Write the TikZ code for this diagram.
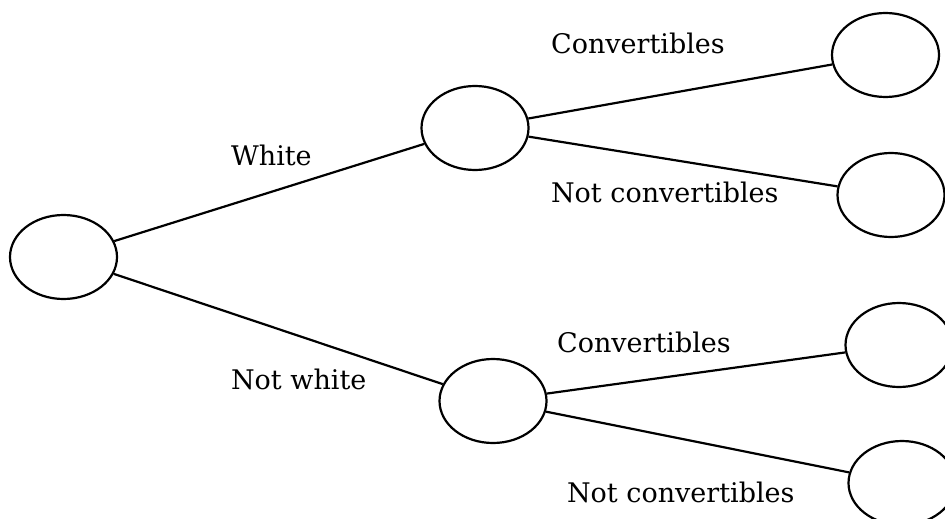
\documentclass[tikz,border=0pt]{standalone}
\usepackage{fontspec}
\setmainfont{DejaVu Serif}
\usepackage{tikz}
\usetikzlibrary{shapes.geometric}

\begin{document}
\begin{tikzpicture}
                [x=0.5pt,y=-0.5pt,line width=1.1pt,
                 state/.style={draw,ellipse,minimum width=53.5pt,minimum height=42pt,inner sep=0pt},
                 lbl/.style={anchor=base west,inner sep=0pt,font=\fontsize{13.5}{16}\selectfont}]
                
                \useasboundingbox (0,0) rectangle (945,518);
                
                \node[state] (root) at (63.5,257) {};
                \node[state] (w)    at (475,128) {};
                \node[state] (nw)   at (493,401) {};
                \node[state] (wc)   at (885.5,55) {};
                \node[state] (wnc)  at (891,195) {};
                \node[state] (nwc)  at (899,345) {};
                \node[state] (nwnc) at (902,483) {};
                
                \node[lbl] (lw)    at (230,165) {White};
                \node[lbl] (lnw)   at (230,389) {Not white};
                \node[lbl] (lwc)   at (550,54)  {Convertibles};
                \node[lbl] (lwnc)  at (550,202) {Not convertibles};
                \node[lbl] (lnwc)  at (556,352) {Convertibles};
                \node[lbl] (lnwnc) at (566,502) {Not convertibles};
                
                \draw (root) -- (w);
                \draw (root) -- (nw);
                \draw (w) -- (wc);
                \draw (w) -- (wnc);
                \draw (nw) -- (nwc);
                \draw (nw) -- (nwnc);
            \end{tikzpicture}
\end{document}
